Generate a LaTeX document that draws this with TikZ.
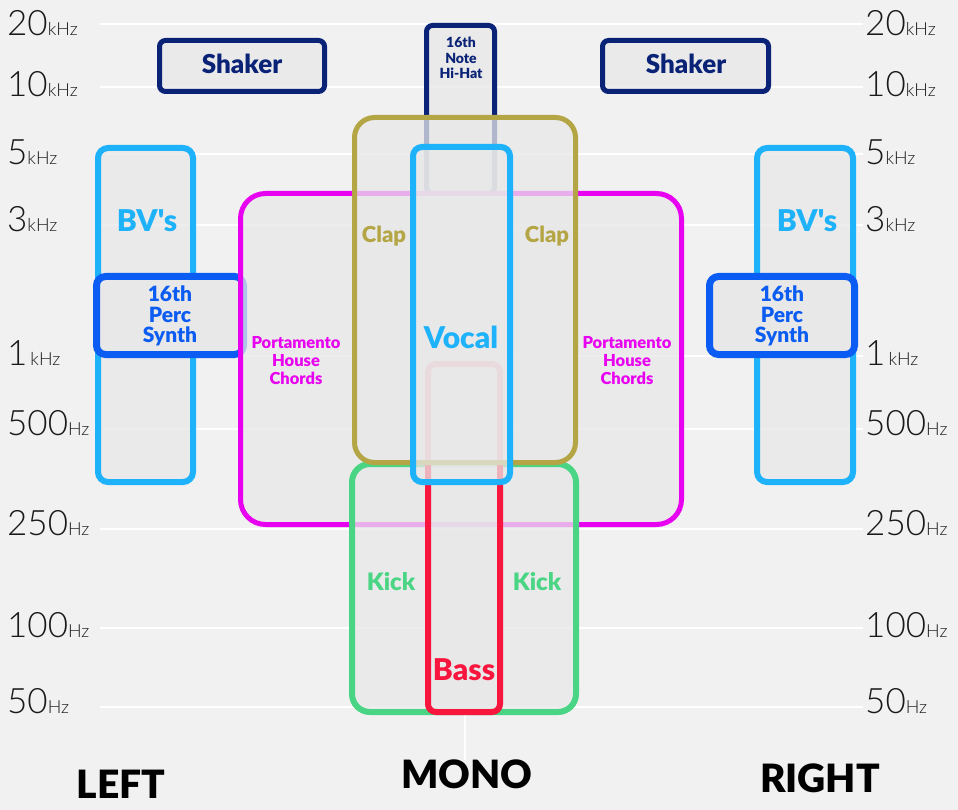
\documentclass[tikz,border=0pt]{standalone}
\usepackage{fontspec}
\setmainfont{Lato}
\newfontfamily\lightfont{Lato Light}
\newfontfamily\heavyfont{Lato Black}
\definecolor{bg}{HTML}{F1F1F1}
\definecolor{boxfill}{HTML}{E8E8E8}
\definecolor{navy}{HTML}{0A2377}
\definecolor{sky}{HTML}{1EB2FA}
\definecolor{percblue}{HTML}{0B5CF2}
\definecolor{mag}{HTML}{E800F0}
\definecolor{olive}{HTML}{B4A545}
\definecolor{kickgreen}{HTML}{4AD585}
\definecolor{bassred}{HTML}{F8163F}
\definecolor{axis}{HTML}{1A1A1A}
\newcommand\fq[2]{{\fontsize{35}{35}\selectfont #1}{\fontsize{18}{18}\selectfont #2}}
\tikzset{
  box/.style={rectangle, draw=#1, fill=boxfill, fill opacity=0.75, rounded corners=8pt, line width=5pt, inner sep=0pt},
  gridline/.style={draw=white, line width=1.8pt},
  ax/.style={anchor=base west, inner sep=0pt, font=\lightfont, text=axis},
  lab/.style={font=\heavyfont, text=#1, inner sep=0pt, align=center},
  side/.style={font=\heavyfont\fontsize{39}{39}\selectfont, text=black, inner sep=0pt, anchor=base},
}
\begin{document}
\begin{tikzpicture}[x=1pt,y=-1pt]
\useasboundingbox (0,0) rectangle (958,810);
\fill[bg] (0,0) rectangle (958,810);
% grid lines
\foreach \yy in {24,87,154,225,356,429,529,628,707}
  \draw[gridline] (100,\yy) -- (863,\yy);
\draw[gridline] (465,712) -- (465,760);
% axis labels left
\node[ax] (l20) at (7,36) {\fq{20}{kHz}};
\node[ax] (l10) at (7,97) {\fq{10}{kHz}};
\node[ax] (l5) at (7,165) {\fq{5}{kHz}};
\node[ax] (l3) at (7,232) {\fq{3}{kHz}};
\node[ax] (l1) at (7,365) {\fq{1}{\,kHz}};
\node[ax] (l500) at (7,435) {\fq{500}{Hz}};
\node[ax] (l250) at (7,535) {\fq{250}{Hz}};
\node[ax] (l100) at (7,637) {\fq{100}{Hz}};
\node[ax] (l50) at (7,713) {\fq{50}{Hz}};
% axis labels right
\node[ax] (r20) at (865,36) {\fq{20}{kHz}};
\node[ax] (r10) at (865,97) {\fq{10}{kHz}};
\node[ax] (r5) at (865,165) {\fq{5}{kHz}};
\node[ax] (r3) at (865,232) {\fq{3}{kHz}};
\node[ax] (r1) at (865,365) {\fq{1}{\,kHz}};
\node[ax] (r500) at (865,435) {\fq{500}{Hz}};
\node[ax] (r250) at (865,535) {\fq{250}{Hz}};
\node[ax] (r100) at (865,637) {\fq{100}{Hz}};
\node[ax] (r50) at (865,713) {\fq{50}{Hz}};
% boxes, bottom to top
\node[box=sky, line width=6pt, rounded corners=10pt, minimum width=95pt, minimum height=334pt] (bvl) at (145.5,315) {};
\node[box=sky, line width=6pt, rounded corners=10pt, minimum width=96pt, minimum height=334pt] (bvr) at (805,315) {};
\node[box=percblue, fill opacity=1, line width=7pt, rounded corners=9pt, minimum width=147pt, minimum height=78pt] (percl) at (170,315.5) {};
\node[box=percblue, fill opacity=1, line width=7pt, rounded corners=9pt, minimum width=145pt, minimum height=78pt] (percr) at (782,315.5) {};
\node[box=navy, rounded corners=6pt, minimum width=165pt, minimum height=51pt] (shakl) at (242,66) {};
\node[box=navy, rounded corners=6pt, minimum width=166pt, minimum height=51pt] (shakr) at (685.5,66) {};
\node[box=navy, rounded corners=6pt, minimum width=68pt, minimum height=168pt] (hihat) at (460.5,109.5) {};
\node[box=mag, rounded corners=25pt, minimum width=441pt, minimum height=331pt] (porta) at (461,359) {};
\node[box=kickgreen, line width=6pt, rounded corners=18pt, minimum width=224pt, minimum height=248pt] (kick) at (464,588) {};
\node[box=bassred, line width=6pt, rounded corners=8pt, minimum width=72pt, minimum height=348pt] (bass) at (464,538) {};
\node[box=olive, rounded corners=20pt, minimum width=221pt, minimum height=345pt] (clap) at (465,290) {};
\node[box=sky, line width=6pt, rounded corners=9pt, minimum width=97pt, minimum height=335pt] (vocal) at (461.5,314.5) {};
% labels
\node[lab=navy, anchor=base, font=\heavyfont\fontsize{26}{26}\selectfont] (tshakl) at (242,74) {Shaker};
\node[lab=navy, anchor=base, font=\heavyfont\fontsize{26}{26}\selectfont] (tshakr) at (686,74) {Shaker};
\node[lab=navy, font=\heavyfont\fontsize{14}{15.5}\selectfont] (thihat) at (461,58) {16th\\Note\\Hi-Hat};
\node[lab=sky, anchor=base, font=\heavyfont\fontsize{30}{30}\selectfont] (tbvl) at (147,232) {BV's};
\node[lab=sky, anchor=base, font=\heavyfont\fontsize{30}{30}\selectfont] (tbvr) at (807,232) {BV's};
\node[lab=percblue, font=\heavyfont\fontsize{21}{20.5}\selectfont] (tpercl) at (170,316) {16th\\Perc\\Synth};
\node[lab=percblue, font=\heavyfont\fontsize{21}{20.5}\selectfont] (tpercr) at (782,316) {16th\\Perc\\Synth};
\node[lab=mag, font=\heavyfont\fontsize{16.5}{18}\selectfont] (tportal) at (296,361) {Portamento\\House\\Chords};
\node[lab=mag, font=\heavyfont\fontsize{16.5}{18}\selectfont] (tportar) at (627,361) {Portamento\\House\\Chords};
\node[lab=olive, anchor=base, font=\heavyfont\fontsize{22}{22}\selectfont] (tclapl) at (384,243) {Clap};
\node[lab=olive, anchor=base, font=\heavyfont\fontsize{22}{22}\selectfont] (tclapr) at (547,243) {Clap};
\node[lab=sky, anchor=base, font=\heavyfont\fontsize{30}{30}\selectfont] (tvocal) at (461,348) {Vocal};
\node[lab=kickgreen, anchor=base, font=\heavyfont\fontsize{24}{24}\selectfont] (tkickl) at (391,590) {Kick};
\node[lab=kickgreen, anchor=base, font=\heavyfont\fontsize{24}{24}\selectfont] (tkickr) at (537,590) {Kick};
\node[lab=bassred, anchor=base, font=\heavyfont\fontsize{30}{30}\selectfont] (tbass) at (464,680) {Bass};
% bottom labels
\node[side] (left) at (121,798) {LEFT};
\node[side] (mono) at (467,788) {MONO};
\node[side] (right) at (820,792) {RIGHT};
\end{tikzpicture}
\end{document}
